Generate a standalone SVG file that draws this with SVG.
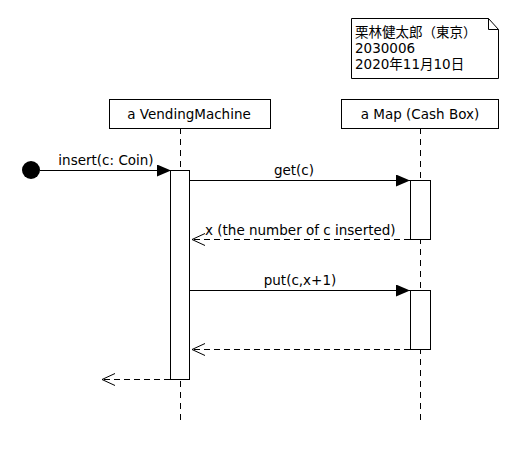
<svg xmlns="http://www.w3.org/2000/svg" width="520" height="460" viewBox="0 0 520 460">
<style>
text{font-family:"DejaVu Sans","Noto Sans CJK JP",sans-serif;font-size:13.5px;fill:#000}
.box{fill:#fff;stroke:#000;stroke-width:1}
.life{stroke:#000;stroke-width:1;stroke-dasharray:6,5;fill:none}
.msg{stroke:#000;stroke-width:1;fill:none}
.ret{stroke:#000;stroke-width:1;stroke-dasharray:6,4;fill:none}
</style>
<defs>
<marker id="filled" markerWidth="14" markerHeight="12" refX="14" refY="6" orient="auto" markerUnits="userSpaceOnUse">
<path d="M0,0 L14,6 L0,12 Z" fill="#000"/>
</marker>
<marker id="open" markerWidth="14" markerHeight="14" refX="13" refY="7" orient="auto" markerUnits="userSpaceOnUse">
<path d="M0,1 L13,7 L0,13" fill="none" stroke="#000" stroke-width="1"/>
</marker>
</defs>
<rect width="520" height="460" fill="#fff"/>
<g id="note">
<path class="box" d="M351.5,18.5 H488.5 L498.5,29.5 V78.5 H351.5 Z"/>
<path class="msg" d="M488.5,18.5 V29.5 H498.5"/>
<text x="355" y="37">栗林健太郎（東京）</text>
<text x="355" y="53">2030006</text>
<text x="355" y="69">2020年11月10日</text>
</g>
<g id="lifelines">
<line class="life" x1="180.5" y1="128" x2="180.5" y2="420"/>
<line class="life" x1="420.5" y1="128" x2="420.5" y2="420"/>
</g>
<g id="vm">
<rect class="box" x="109.5" y="99.5" width="161" height="29"/>
<text x="189" y="119" text-anchor="middle">a VendingMachine</text>
</g>
<g id="map">
<rect class="box" x="341.5" y="99.5" width="157" height="29"/>
<text x="420" y="119" text-anchor="middle">a Map (Cash Box)</text>
</g>
<g id="start">
<circle cx="31" cy="170" r="9" fill="#000"/>
</g>
<g id="activations">
<rect class="box" x="170.5" y="170.5" width="19" height="209"/>
<rect class="box" x="410.5" y="180.5" width="20" height="59"/>
<rect class="box" x="410.5" y="290.5" width="20" height="59"/>
</g>
<g id="connectors">
<line class="msg" x1="40" y1="170.5" x2="171" y2="170.5" marker-end="url(#filled)"/>
<text x="106" y="165" text-anchor="middle">insert(c: Coin)</text>
<line class="msg" x1="190" y1="180.5" x2="410" y2="180.5" marker-end="url(#filled)"/>
<text x="294" y="175" text-anchor="middle">get(c)</text>
<line class="ret" x1="410" y1="239.5" x2="192" y2="239.5" marker-end="url(#open)"/>
<text x="205" y="235">x (the number of c inserted)</text>
<line class="msg" x1="190" y1="290.5" x2="410" y2="290.5" marker-end="url(#filled)"/>
<text x="300" y="285" text-anchor="middle">put(c,x+1)</text>
<line class="ret" x1="410" y1="349.5" x2="192" y2="349.5" marker-end="url(#open)"/>
<line class="ret" x1="170" y1="379.5" x2="102" y2="379.5" marker-end="url(#open)"/>
</g>
</svg>
